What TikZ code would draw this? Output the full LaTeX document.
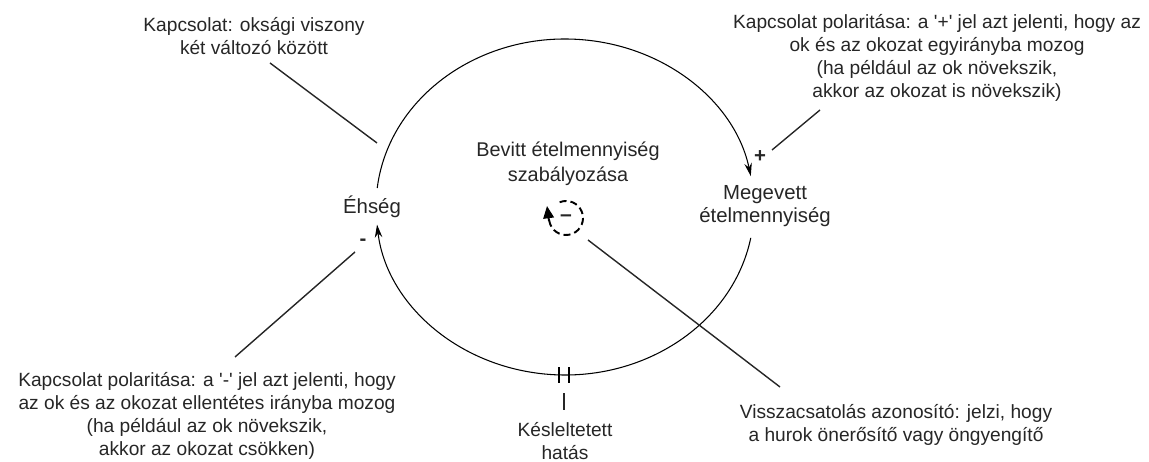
\documentclass[tikz,border=0pt]{standalone}
\usepackage{fontspec}
\setmainfont{Liberation Sans}
\usetikzlibrary{arrows.meta,calc}

\begin{document}
\begin{tikzpicture}[
  x=0.02cm,y=0.02cm,
  note/.style={align=center,inner sep=0pt,text=black!85,
    font=\fontsize{10.9}{13.1}\selectfont},
  var/.style={align=center,inner sep=0pt,text=black!85,
    font=\fontsize{11.6}{13.1}\selectfont},
  link/.style={line width=0.6pt,-{Stealth[length=2.6mm,width=1.5mm]}},
  callout/.style={line width=0.8pt,black!85}
]
\useasboundingbox (0,0) rectangle (1149,462);

% Variables
\node[var]  (ehseg) at (372,255) {Éhség};
\node[var]  (megev) at (765,256) {Megevett\\ételmennyiség};
\node[note,font=\fontsize{11.3}{14.2}\selectfont] (szab) at (568,298)
  {Bevitt ételmennyiség\\szabályozása};

% Causal links (loop)
\coordinate (loop) at (565,255);
\coordinate (ehseg-out) at ($(loop)+(173.5:189 and 168)$);
\coordinate (megev-out) at ($(loop)+(-10.6:189 and 168)$);
\draw[link] (ehseg-out) arc[start angle=173.5,end angle=10.6,x radius=189,y radius=168];
\draw[link] (megev-out) arc[start angle=-10.6,end angle=-174,x radius=189,y radius=168];

% Polarity signs
\node[var,font=\bfseries\fontsize{11.6}{13}\selectfont] (plus)  at (760,305) {+};
\node[var,font=\bfseries\fontsize{11.6}{13}\selectfont] (minus) at (363,220) {-};

% Delay mark
\coordinate (delay) at (564,87);
\draw[line width=0.8pt] ($(delay)+(-5,-8)$) -- ++(0,16);
\draw[line width=0.8pt] ($(delay)+(5,-8)$) -- ++(0,16);

% Loop identifier
\coordinate (rloop) at (566,244);
\draw[line width=1.1pt,dash pattern=on 4pt off 2.3pt]
  ($(rloop)+(112:17)$) arc[start angle=112,end angle=-186,radius=17];
\coordinate (rtip) at ($(rloop)+(-19,12)$);
\draw[line width=1.1pt,-{Triangle[length=7pt,width=6pt]}]
  ($(rloop)+(-17,-3)$) -- (rtip);
\node[var,font=\bfseries\fontsize{12}{13}\selectfont] (rsign) at (rloop) {--};

% Notes
\node[note] (notetl) at (254,425.5) {Kapcsolat: oksági viszony\\két változó között};
\node[note] (notetr) at (937,404) {Kapcsolat polaritása: a \textquotesingle+\textquotesingle{} jel azt jelenti, hogy az\\
  ok és az okozat egyirányba mozog\\(ha például az ok növekszik,\\akkor az okozat is növekszik)};
\node[note] (notebl) at (207,46) {Kapcsolat polaritása: a \textquotesingle-\textquotesingle{} jel azt jelenti, hogy\\
  az ok és az okozat ellentétes irányba mozog\\(ha például az ok növekszik,\\akkor az okozat csökken)};
\node[note] (notedl) at (565,21) {Késleltetett\\hatás};
\node[note] (notebr) at (896,37) {Visszacsatolás azonosító: jelzi, hogy\\
  a hurok önerősítő vagy öngyengítő};

% Callout lines
\coordinate (tl-a) at (270,399);  \coordinate (tl-b) at (377,319);
\coordinate (tr-a) at (820,352);  \coordinate (tr-b) at (772,312);
\coordinate (bl-a) at (235,105);  \coordinate (bl-b) at (355,210);
\coordinate (br-a) at (780,75);   \coordinate (br-b) at (588,222);
\coordinate (dl-a) at (564,52);   \coordinate (dl-b) at (564,69);
\draw[callout] (tl-a) -- (tl-b);
\draw[callout] (tr-a) -- (tr-b);
\draw[callout] (bl-a) -- (bl-b);
\draw[callout] (br-a) -- (br-b);
\draw[callout] (dl-a) -- (dl-b);
\end{tikzpicture}
\end{document}
